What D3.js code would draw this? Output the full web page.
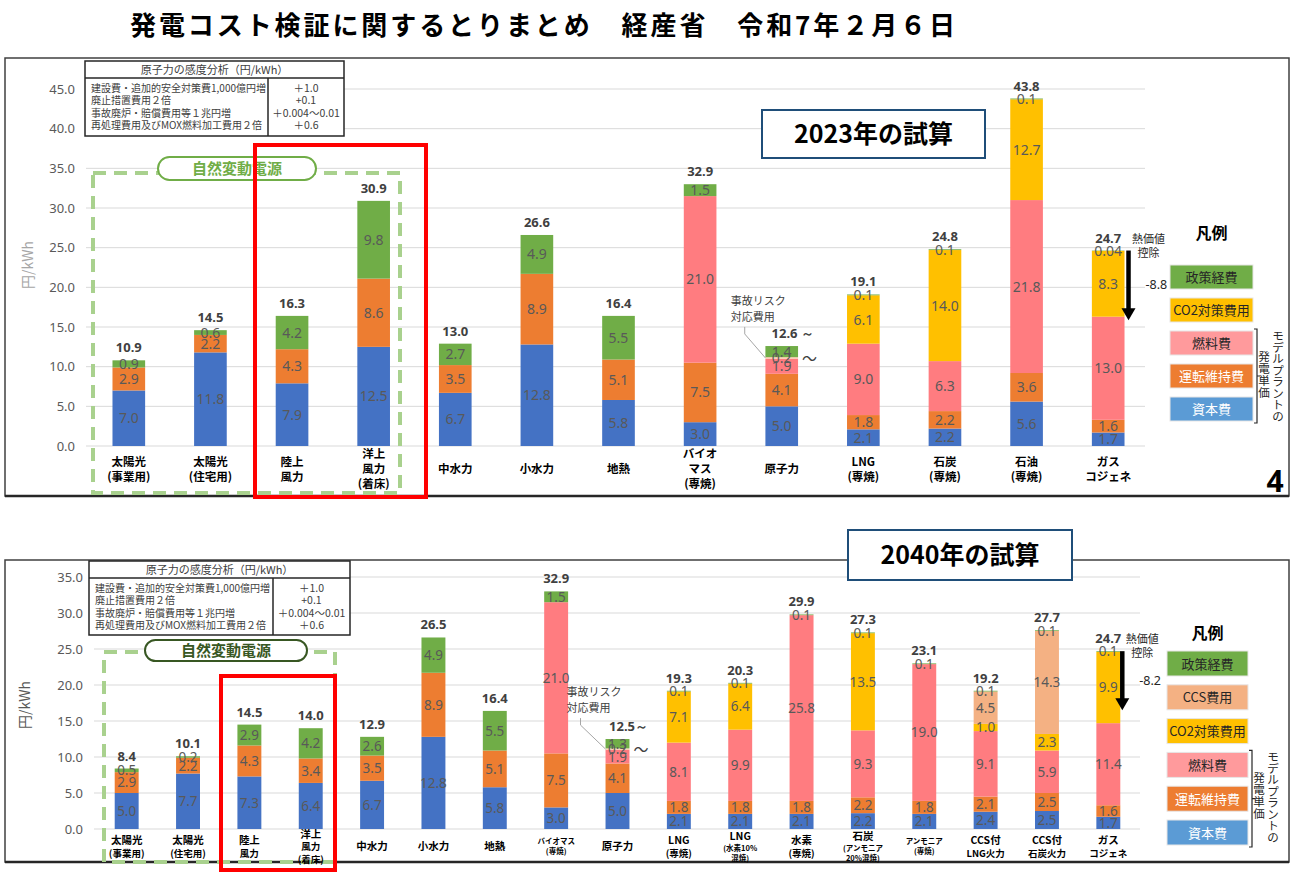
<!DOCTYPE html>
<html>
<head>
<meta charset="utf-8">
<script src="https://cdn.jsdelivr.net/npm/d3@7"></script>
<style>
  body { margin: 0; background: #fff; }
  svg { font-family: "Noto Sans CJK JP", "Noto Sans", sans-serif; }
</style>
</head>
<body>
<svg id="chart" width="1296" height="872"></svg>
<script>
// ─── データ ───────────────────────────────────────────────────────────────
const SERIES = ["capital", "om", "fuel", "accident", "co2", "ccs", "policy"];

// 2023年の試算
const TOP_CATS = ["太陽光\n(事業用)", "太陽光\n(住宅用)", "陸上\n風力", "洋上\n風力\n(着床)", "中水力", "小水力", "地熱",
  "バイオ\nマス\n(専焼)", "原子力", "LNG\n(専焼)", "石炭\n(専焼)", "石油\n(専焼)", "ガス\nコジェネ"];
const TOP_CAPITAL  = [7.0, 11.8, 7.9, 12.5, 6.7, 12.8, 5.8, 3.0, 5.0, 2.1, 2.2, 5.6, 1.7];
const TOP_OM       = [2.9, 2.2, 4.3, 8.6, 3.5, 8.9, 5.1, 7.5, 4.1, 1.8, 2.2, 3.6, 1.6];
const TOP_FUEL     = [0, 0, 0, 0, 0, 0, 0, 21.0, 1.9, 9.0, 6.3, 21.8, 13.0];
const TOP_ACCIDENT = [0, 0, 0, 0, 0, 0, 0, 0, 0.2, 0, 0, 0, 0];
const TOP_CO2      = [0, 0, 0, 0, 0, 0, 0, 0, 0, 6.1, 14.0, 12.7, 8.3];
const TOP_CCS      = [0, 0, 0, 0, 0, 0, 0, 0, 0, 0, 0, 0, 0];
const TOP_POLICY   = [0.9, 0.6, 4.2, 9.8, 2.7, 4.9, 5.5, 1.5, 1.4, 0.1, 0.1, 0.1, 0.04];
const TOP_TOTAL    = ["10.9", "14.5", "16.3", "30.9", "13.0", "26.6", "16.4", "32.9", "12.6 ～", "19.1", "24.8", "43.8", "24.7"];
const TOP_TICKS    = [0, 5, 10, 15, 20, 25, 30, 35, 40, 45];
const TOP_HEAT     = 8.8;

// 2040年の試算
const BOT_CATS = ["太陽光\n(事業用)", "太陽光\n(住宅用)", "陸上\n風力", "洋上\n風力\n(着床)", "中水力", "小水力", "地熱",
  "バイオマス\n(専焼)", "原子力", "LNG\n(専焼)", "LNG\n(水素10%\n混焼)", "水素\n(専焼)", "石炭\n(アンモニア\n20%混焼)",
  "アンモニア\n(専焼)", "CCS付\nLNG火力", "CCS付\n石炭火力", "ガス\nコジェネ"];
const BOT_CAPITAL  = [5.0, 7.7, 7.3, 6.4, 6.7, 12.8, 5.8, 3.0, 5.0, 2.1, 2.1, 2.1, 2.2, 2.1, 2.4, 2.5, 1.7];
const BOT_OM       = [2.9, 2.2, 4.3, 3.4, 3.5, 8.9, 5.1, 7.5, 4.1, 1.8, 1.8, 1.8, 2.2, 1.8, 2.1, 2.5, 1.6];
const BOT_FUEL     = [0, 0, 0, 0, 0, 0, 0, 21.0, 1.9, 8.1, 9.9, 25.8, 9.3, 19.0, 9.1, 5.9, 11.4];
const BOT_ACCIDENT = [0, 0, 0, 0, 0, 0, 0, 0, 0.2, 0, 0, 0, 0, 0, 0, 0, 0];
const BOT_CO2      = [0, 0, 0, 0, 0, 0, 0, 0, 0, 7.1, 6.4, 0, 13.5, 0, 1.0, 2.3, 9.9];
const BOT_CCS      = [0, 0, 0, 0, 0, 0, 0, 0, 0, 0, 0, 0, 0, 0, 4.5, 14.3, 0];
const BOT_POLICY   = [0.5, 0.2, 2.9, 4.2, 2.6, 4.9, 5.5, 1.5, 1.3, 0.1, 0.1, 0.1, 0.1, 0.1, 0.1, 0.1, 0.1];
const BOT_TOTAL    = ["8.4", "10.1", "14.5", "14.0", "12.9", "26.5", "16.4", "32.9", "12.5～", "19.3", "20.3", "29.9", "27.3", "23.1", "19.2", "27.7", "24.7"];
const BOT_TICKS    = [0, 5, 10, 15, 20, 25, 30, 35];
const BOT_HEAT     = 8.2;
const BOT_TINY_ALL = [7, 13];   // 全行小さい文字
const BOT_TINY_SUB = [10, 12];  // 2行目以降が小さい文字

// 原子力の感度分析
const SENS_ITEMS  = ["建設費・追加的安全対策費1,000億円増", "廃止措置費用２倍", "事故廃炉・賠償費用等１兆円増", "再処理費用及びMOX燃料加工費用２倍"];
const SENS_VALUES = ["＋1.0", "+0.1", "＋0.004～0.01", "＋0.6"];

const LEGEND_TOP = ["policy", "co2", "fuel", "om", "capital"];
const LEGEND_BOT = ["policy", "ccs", "co2", "fuel", "om", "capital"];
const LEGEND_LABEL = { policy: "政策経費", ccs: "CCS費用", co2: "CO2対策費用", fuel: "燃料費", om: "運転維持費", capital: "資本費" };

// ─── スタイル ─────────────────────────────────────────────────────────────
const BAR_COLOR = { capital: "#4472c4", om: "#ed7d31", fuel: "#ff7c80", accident: "#f8cbad", co2: "#ffc000", ccs: "#f4b183", policy: "#70ad47" };
const LEG_COLOR = { capital: "#5b9bd5", om: "#ed7d31", fuel: "#ff9a9c", co2: "#ffc000", ccs: "#f4b183", policy: "#70ad47" };
const LEG_TEXT  = { capital: "#fff", om: "#fff", fuel: "#262626", co2: "#262626", ccs: "#262626", policy: "#262626" };

const svg = d3.select("#chart");

// タイトル
svg.append("text")
  .attr("x", 130).attr("y", 35)
  .attr("textLength", 825).attr("lengthAdjust", "spacing")
  .attr("font-size", 26).attr("font-weight", 700).attr("fill", "#000")
  .text("発電コスト検証に関するとりまとめ　経産省　令和7年２月６日");

function buildRows(cats, cols) {
  return cats.map((c, i) => {
    const r = { cat: c };
    SERIES.forEach(k => { r[k] = cols[k][i]; });
    return r;
  });
}

// 縦書き（1文字ずつ積む）
function verticalText(g, str, cx, y0, step, size) {
  g.append("g").selectAll("text").data(Array.from(str)).join("text")
    .attr("x", cx).attr("y", (c, i) => y0 + i * step)
    .attr("dy", "0.35em").attr("text-anchor", "middle")
    .attr("font-size", size).attr("fill", "#262626")
    .text(c => c);
}

function drawPanel(p) {
  const g = svg.append("g");

  // 枠
  g.append("rect")
    .attr("x", p.frame[0]).attr("y", p.frame[1]).attr("width", p.frame[2]).attr("height", p.frame[3])
    .attr("fill", "none").attr("stroke", "#404040").attr("stroke-width", 1.5);
  g.append("line")
    .attr("x1", p.frame[0]).attr("x2", p.frame[0] + p.frame[2])
    .attr("y1", p.frame[1] + p.frame[3]).attr("y2", p.frame[1] + p.frame[3])
    .attr("stroke", "#262626").attr("stroke-width", 2.5);

  const x = d3.scaleBand().domain(d3.range(p.cats.length)).range(p.xRange)
    .paddingInner(p.pad).paddingOuter(p.pad / 2);
  const y = d3.scaleLinear().domain([0, d3.max(p.ticks)]).range(p.yRange);

  // グリッド
  g.append("g").selectAll("line").data(p.ticks).join("line")
    .attr("x1", p.grid[0]).attr("x2", p.grid[1])
    .attr("y1", d => y(d)).attr("y2", d => y(d))
    .attr("stroke", "#d9d9d9").attr("stroke-width", 1);

  // Y軸
  const ya = g.append("g").attr("transform", `translate(${p.yAxisX},0)`)
    .call(d3.axisLeft(y).tickValues(p.ticks).tickFormat(d3.format(".1f")).tickSize(0).tickPadding(3));
  ya.select(".domain").remove();
  ya.selectAll("text").attr("font-size", 13).attr("fill", "#595959")
    .attr("font-family", "'Noto Sans', sans-serif");

  g.append("text")
    .attr("transform", `translate(${p.yLabel[0]},${p.yLabel[1]}) rotate(-90)`)
    .attr("text-anchor", "middle").attr("font-size", 14).attr("fill", p.yLabelColor)
    .text("円/kWh");

  // 自然変動電源の枠
  const nb = p.natureBox;
  g.append("rect")
    .attr("x", nb[0]).attr("y", nb[1]).attr("width", nb[2]).attr("height", nb[3])
    .attr("fill", "none").attr("stroke", "#a9d18e").attr("stroke-width", 4)
    .attr("stroke-dasharray", "13,8");

  // 積み上げ
  const rows = buildRows(p.cats, p.cols);
  const stacked = d3.stack().keys(SERIES)(rows);
  const bw = x.bandwidth();

  g.append("g").selectAll("g").data(stacked).join("g")
    .attr("fill", d => BAR_COLOR[d.key])
    .selectAll("rect").data(d => d).join("rect")
    .attr("x", (d, i) => x(i))
    .attr("y", d => y(d[1]))
    .attr("width", bw)
    .attr("height", d => Math.max(0, y(d[0]) - y(d[1])));

  // 数値ラベル
  const fmt = v => v < 0.1 ? v.toFixed(2) : v.toFixed(1);
  stacked.forEach(layer => {
    g.append("g").selectAll("text")
      .data(layer.map((d, i) => ({ d, i, v: d.data[layer.key] })).filter(o => o.v > 0))
      .join("text")
      .attr("x", o => x(o.i) + bw / 2)
      .attr("y", o => (y(o.d[0]) + y(o.d[1])) / 2)
      .attr("dy", "0.36em")
      .attr("text-anchor", "middle")
      .attr("font-size", p.valueFont).attr("fill", "#595959")
      .attr("font-family", "'Noto Sans', sans-serif")
      .text(o => fmt(o.v));
  });

  // 合計ラベル
  const tops = stacked[stacked.length - 1];
  g.append("g").selectAll("text").data(p.totals).join("text")
    .attr("x", (t, i) => x(i) + bw / 2 + (t.includes("～") ? 11 : 0))
    .attr("y", (t, i) => y(tops[i][1]) - 8)
    .attr("text-anchor", "middle")
    .attr("font-size", 13).attr("font-weight", 700).attr("fill", "#404040")
    .attr("font-family", "'Noto Sans', sans-serif")
    .text(t => t);

  // 事故リスク対応費用の注記
  const ni = p.cats.indexOf("原子力");
  const acc = stacked.find(s => s.key === "accident")[ni];
  const accY = (y(acc[0]) + y(acc[1])) / 2;
  const nx = x(ni);
  const lx = nx + bw / 2 - 51;
  g.append("text").attr("x", lx).attr("y", accY - 53)
    .attr("font-size", 11).attr("fill", "#404040").text("事故リスク");
  g.append("text").attr("x", lx).attr("y", accY - 37)
    .attr("font-size", 11).attr("fill", "#404040").text("対応費用");
  g.append("polyline")
    .attr("points", [[lx + 14, accY - 31], [lx + 14, accY - 24], [nx, accY]].join(" "))
    .attr("fill", "none").attr("stroke", "#a6a6a6").attr("stroke-width", 1);
  g.append("text").attr("x", nx + bw + 4).attr("y", accY + 6)
    .attr("font-size", 15).attr("fill", "#404040").text("～");

  // X軸ラベル
  p.cats.forEach((c, i) => {
    const lines = c.split("\n");
    const sizes = lines.map((l, j) => p.labelSize(i, j));
    const lh = sizes.map(s => s * 1.3);
    const totalH = d3.sum(lh);
    let cy = p.labelCenter - totalH / 2;
    const t = g.append("text").attr("text-anchor", "middle").attr("font-weight", 700).attr("fill", "#000");
    lines.forEach((l, j) => {
      cy += lh[j];
      t.append("tspan").attr("x", x(i) + bw / 2).attr("y", cy - lh[j] * 0.28)
        .attr("font-size", sizes[j]).text(l);
    });
  });

  // 熱価値控除の矢印
  const gi = p.cats.length - 1;
  const ax = x(gi) + bw + p.arrowGap;
  const aTop = y(tops[gi][1]);
  const aBot = y(tops[gi][1] - p.heat);
  g.append("line").attr("x1", ax).attr("x2", ax).attr("y1", aTop).attr("y2", aBot - 10)
    .attr("stroke", "#000").attr("stroke-width", 4.5);
  g.append("path").attr("d", `M${ax - 7},${aBot - 12} L${ax + 7},${aBot - 12} L${ax},${aBot} Z`).attr("fill", "#000");
  g.append("text").attr("x", ax + 20).attr("y", aTop - 8).attr("text-anchor", "middle")
    .attr("font-size", 11).attr("fill", "#262626").text("熱価値");
  g.append("text").attr("x", ax + 20).attr("y", aTop + 6).attr("text-anchor", "middle")
    .attr("font-size", 11).attr("fill", "#262626").text("控除");
  g.append("text").attr("x", ax + 17).attr("y", (aTop + aBot) / 2 + 4)
    .attr("font-size", 12.5).attr("fill", "#262626")
    .attr("font-family", "'Noto Sans', sans-serif").text("-" + p.heat.toFixed(1));

  // 原子力の感度分析表
  const tb = p.table;
  const tg = g.append("g");
  tg.append("rect").attr("x", tb.x).attr("y", tb.y).attr("width", tb.w).attr("height", tb.h)
    .attr("fill", "#fff").attr("stroke", "#262626").attr("stroke-width", 1.5);
  tg.append("line").attr("x1", tb.x).attr("x2", tb.x + tb.w).attr("y1", tb.y + 17).attr("y2", tb.y + 17)
    .attr("stroke", "#262626").attr("stroke-width", 1.5);
  tg.append("line").attr("x1", tb.div).attr("x2", tb.div).attr("y1", tb.y + 17).attr("y2", tb.y + tb.h)
    .attr("stroke", "#262626").attr("stroke-width", 1.5);
  tg.append("text").attr("x", tb.x + tb.w / 2).attr("y", tb.y + 13).attr("text-anchor", "middle")
    .attr("font-size", 11).attr("fill", "#404040").text("原子力の感度分析（円/kWh）");
  SENS_ITEMS.forEach((s, i) => {
    tg.append("text").attr("x", tb.x + 6).attr("y", tb.y + 31 + i * 12.3)
      .attr("font-size", 10).attr("fill", "#404040").text(s);
    tg.append("text").attr("x", (tb.div + tb.x + tb.w) / 2).attr("y", tb.y + 31 + i * 12.3)
      .attr("text-anchor", "middle").attr("font-size", 10.5).attr("fill", "#404040").text(SENS_VALUES[i]);
  });

  // 自然変動電源のラベル
  const pl = p.pill;
  g.append("rect").attr("x", pl[0]).attr("y", pl[1]).attr("width", pl[2]).attr("height", pl[3])
    .attr("rx", pl[3] / 2).attr("fill", "#fff").attr("stroke", p.pillColor).attr("stroke-width", 2);
  g.append("text").attr("x", pl[0] + pl[2] / 2).attr("y", pl[1] + pl[3] / 2 + 5.5).attr("text-anchor", "middle")
    .attr("font-size", 15).attr("font-weight", 700).attr("fill", p.pillColor).text("自然変動電源");

  // 赤枠
  const rb = p.redBox;
  g.append("rect").attr("x", rb[0]).attr("y", rb[1]).attr("width", rb[2]).attr("height", rb[3])
    .attr("fill", "none").attr("stroke", "#ff0000").attr("stroke-width", 4);

  // 年の見出し
  const hb = p.heading;
  g.append("rect").attr("x", hb[0]).attr("y", hb[1]).attr("width", hb[2]).attr("height", hb[3])
    .attr("fill", "#fff").attr("stroke", "#1f4e79").attr("stroke-width", 2);
  g.append("text").attr("x", hb[0] + hb[2] / 2).attr("y", hb[1] + hb[3] / 2 + 9).attr("text-anchor", "middle")
    .attr("font-size", 25).attr("font-weight", 700).attr("fill", "#000").text(p.headingText);

  // 凡例
  const lg = p.legend;
  g.append("text").attr("x", lg.x + lg.w / 2).attr("y", lg.titleY).attr("text-anchor", "middle")
    .attr("font-size", 16).attr("font-weight", 700).attr("fill", "#000").text("凡例");
  p.legendKeys.forEach((k, i) => {
    const yy = lg.y + i * lg.step;
    g.append("rect").attr("x", lg.x).attr("y", yy).attr("width", lg.w).attr("height", lg.h)
      .attr("fill", LEG_COLOR[k]).attr("stroke", "#e7e6e6").attr("stroke-width", 1);
    g.append("text").attr("x", lg.x + lg.w / 2).attr("y", yy + lg.h / 2 + 5).attr("text-anchor", "middle")
      .attr("font-size", 13).attr("fill", LEG_TEXT[k]).text(LEGEND_LABEL[k]);
  });
  // モデルプラントの発電単価（括弧）
  const n = p.legendKeys.length;
  const bTop = lg.y + (n - 3) * lg.step - 2;
  const bBot = lg.y + (n - 1) * lg.step + lg.h + 2;
  const bx = lg.x + lg.w + 4;
  g.append("path")
    .attr("d", `M${bx - 3},${bTop} H${bx} V${bBot} H${bx - 3} M${bx},${(bTop + bBot) / 2} H${bx + 3}`)
    .attr("fill", "none").attr("stroke", "#262626").attr("stroke-width", 1.2);
  verticalText(g, "モデルプラントの", bx + 21, bTop + 7, 11.5, 11.5);
  verticalText(g, "発電単価", bx + 7, bTop + 28, 12, 11.5);
}

drawPanel({
  cats: TOP_CATS,
  cols: { capital: TOP_CAPITAL, om: TOP_OM, fuel: TOP_FUEL, accident: TOP_ACCIDENT, co2: TOP_CO2, ccs: TOP_CCS, policy: TOP_POLICY },
  totals: TOP_TOTAL, ticks: TOP_TICKS, heat: TOP_HEAT,
  frame: [5, 58, 1284, 438],
  xRange: [88, 1149], pad: 0.6,
  yRange: [446, 89],
  grid: [86, 1145], yAxisX: 78,
  yLabel: [33, 265], yLabelColor: "#a6a6a6",
  valueFont: 14,
  labelCenter: 470,
  labelSize: () => 11.5,
  arrowGap: 4,
  natureBox: [93, 173, 307, 320],
  pill: [158, 157, 158, 23], pillColor: "#70ad47",
  redBox: [255, 145, 171, 352],
  table: { x: 85, y: 61, w: 259, h: 75, div: 268 },
  heading: [762, 110, 223, 48], headingText: "2023年の試算",
  legend: { x: 1170, y: 265, w: 83, h: 24, step: 33, titleY: 239 },
  legendKeys: LEGEND_TOP
});

drawPanel({
  cats: BOT_CATS,
  cols: { capital: BOT_CAPITAL, om: BOT_OM, fuel: BOT_FUEL, accident: BOT_ACCIDENT, co2: BOT_CO2, ccs: BOT_CCS, policy: BOT_POLICY },
  totals: BOT_TOTAL, ticks: BOT_TICKS, heat: BOT_HEAT,
  frame: [5, 560, 1284, 302],
  xRange: [96, 1139], pad: 0.61,
  yRange: [829, 577],
  grid: [94, 1140], yAxisX: 86,
  yLabel: [30, 705], yLabelColor: "#595959",
  valueFont: 13.5,
  labelCenter: 847,
  labelSize: (i, j) => BOT_TINY_ALL.includes(i) ? 7.5 : (BOT_TINY_SUB.includes(i) && j > 0 ? 7.5 : (j > 0 ? 9.5 : 10.5)),
  arrowGap: 2,
  natureBox: [104, 652, 231, 210],
  pill: [145, 640, 162, 21], pillColor: "#385723",
  redBox: [221, 676, 114, 194],
  table: { x: 89, y: 561, w: 261, h: 74, div: 273 },
  heading: [848, 530, 224, 50], headingText: "2040年の試算",
  legend: { x: 1167, y: 651, w: 81, h: 25, step: 33.8, titleY: 639 },
  legendKeys: LEGEND_BOT
});

// ページ番号
svg.append("text").attr("x", 1275).attr("y", 492).attr("text-anchor", "middle")
  .attr("font-size", 30).attr("font-weight", 700).attr("fill", "#000")
  .attr("font-family", "'Noto Sans', sans-serif").text("4");
</script>
</body>
</html>
